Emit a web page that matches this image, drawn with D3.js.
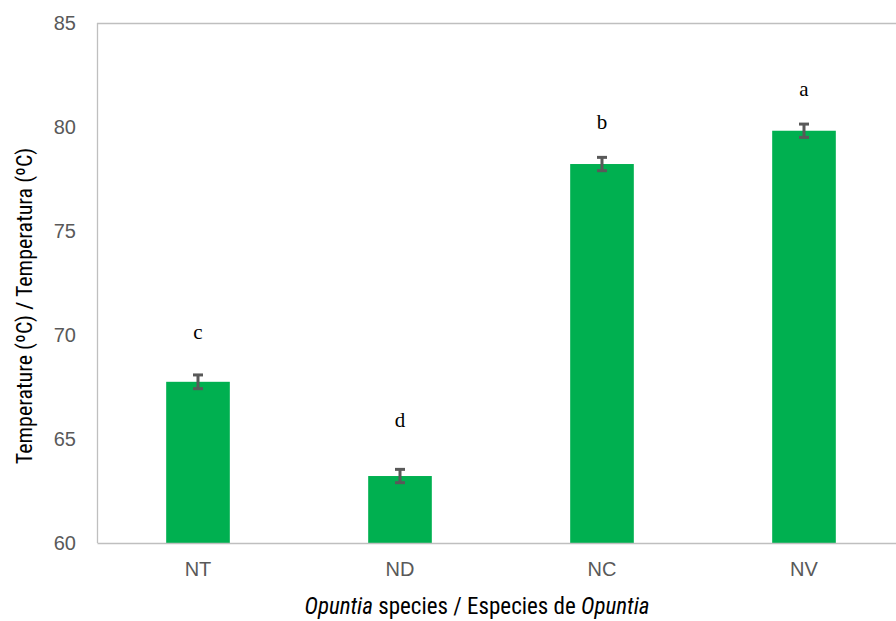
<!DOCTYPE html>
<html><head><meta charset="utf-8">
<script src="https://cdn.jsdelivr.net/npm/d3@7"></script>
<style>body{margin:0;background:#fff}</style>
</head><body><svg id="c" width="896" height="621"></svg>
<script>
const categories = ["NT","ND","NC","NV"];
const values = [67.75, 63.22, 78.22, 79.82];
const errors = [0.33, 0.32, 0.32, 0.32];
const letters = ["c","d","b","a"];
const letterLevels = [69.8, 65.6, 79.9, 81.5];
const yTicks = [60,65,70,75,80,85];

const svg = d3.select("#c");
const m = {l:97, t:23, b:543, r:905};
const x = d3.scaleBand().domain(categories).range([m.l, m.r]).paddingInner(0.685).paddingOuter(0.3425);
const y = d3.scaleLinear().domain([60,85]).range([m.b, m.t]);
const grey = "#bfbfbf";

// frame
svg.append("line").attr("x1",m.l).attr("x2",m.r).attr("y1",m.t+0.5).attr("y2",m.t+0.5).attr("stroke",grey).attr("stroke-width",1.3);
svg.append("line").attr("x1",m.l+0.5).attr("x2",m.l+0.5).attr("y1",m.t).attr("y2",m.b).attr("stroke",grey).attr("stroke-width",1.3);

// y axis
const ya = svg.append("g").attr("transform",`translate(${m.l-21},0)`)
  .call(d3.axisLeft(y).tickValues(yTicks).tickSize(0).tickPadding(0));
ya.select(".domain").remove();
ya.selectAll("text").attr("fill","#595959").style("font-family","'Liberation Sans',Arial,sans-serif").style("font-size","20px");

// bars
svg.selectAll("rect.bar").data(categories).join("rect").attr("class","bar")
  .attr("x",d=>x(d)).attr("width",x.bandwidth())
  .attr("y",(d,i)=>y(values[i])).attr("height",(d,i)=>y(60)-y(values[i]))
  .attr("fill","#00b050");

// bottom axis
const xa = svg.append("g").attr("transform",`translate(0,${m.b})`)
  .call(d3.axisBottom(x).tickSize(0).tickPadding(19));
xa.select(".domain").attr("stroke",grey).attr("stroke-width",1.3);
xa.selectAll("text").attr("fill","#595959").style("font-family","'Liberation Sans',Arial,sans-serif").style("font-size","20px");

// error bars
const eb = svg.append("g").attr("stroke","#595959").attr("stroke-width",3);
categories.forEach((c,i)=>{
  const cx = x(c)+x.bandwidth()/2;
  eb.append("line").attr("x1",cx).attr("x2",cx).attr("y1",y(values[i]+errors[i])).attr("y2",y(values[i]-errors[i]));
  eb.append("line").attr("x1",cx-5).attr("x2",cx+5).attr("y1",y(values[i]+errors[i])).attr("y2",y(values[i]+errors[i]));
  eb.append("line").attr("x1",cx-5).attr("x2",cx+5).attr("y1",y(values[i]-errors[i])).attr("y2",y(values[i]-errors[i]));
});

// letters
svg.selectAll("text.lt").data(categories).join("text").attr("class","lt")
  .attr("x",d=>x(d)+x.bandwidth()/2).attr("y",(d,i)=>y(letterLevels[i]))
  .attr("text-anchor","middle").attr("fill","#000")
  .style("font-family","'Liberation Serif','Times New Roman',serif").style("font-size","21px")
  .text((d,i)=>letters[i]);

// axis titles
const tf = "'Liberation Sans Narrow','Roboto Condensed','Arial Narrow',Roboto,sans-serif";
svg.append("text").attr("transform","translate(32,306) rotate(-90)").attr("text-anchor","middle")
  .style("font-family",tf).style("font-size","22px").attr("fill","#000")
  .text("Temperature (ºC) / Temperatura (ºC)");
const xt = svg.append("text").attr("x",477).attr("y",614).attr("text-anchor","middle")
  .style("font-family",tf).style("font-size","23px").attr("fill","#000");
xt.append("tspan").style("font-style","italic").text("Opuntia");
xt.append("tspan").text(" species / Especies de ");
xt.append("tspan").style("font-style","italic").text("Opuntia");
</script></body></html>
